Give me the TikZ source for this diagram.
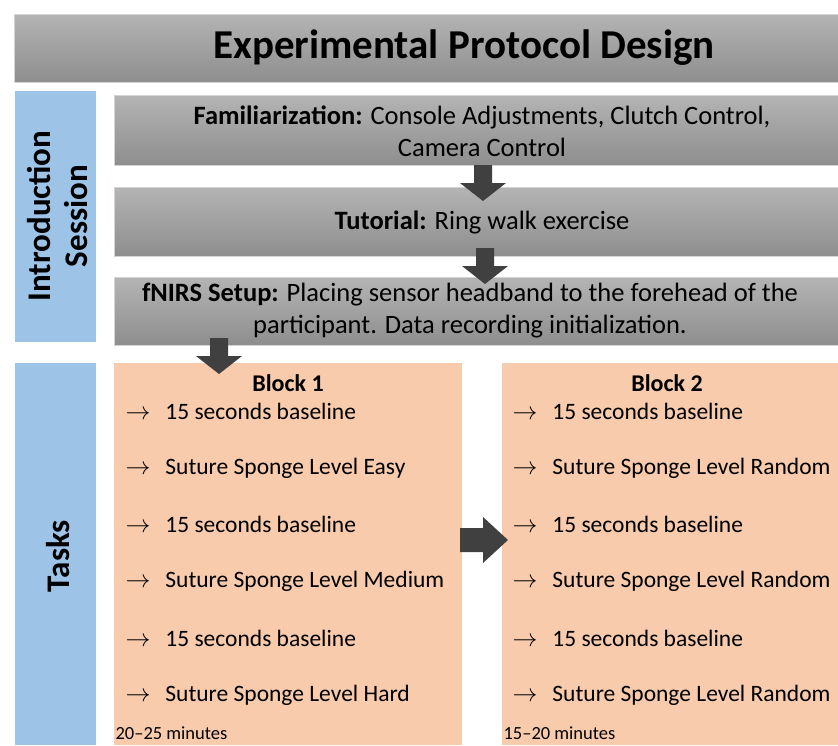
\documentclass[tikz,border=0pt]{standalone}
\usepackage{fontspec}
\setmainfont{Carlito}
\usetikzlibrary{positioning}

\definecolor{barTop}{HTML}{B4B4B4}
\definecolor{barBottom}{HTML}{8E8E8E}
\definecolor{barEdge}{HTML}{D4D4D4}
\definecolor{sessionBlue}{HTML}{9DC3E6}
\definecolor{taskOrange}{HTML}{F8CBAD}
\definecolor{arrowGray}{HTML}{404040}

\tikzset{
  downarrow/.pic={\fill[arrowGray] (-9,0) -- (9,0) -- (9,18) -- (23,18) -- (0,36) -- (-23,18) -- (-9,18) -- cycle;},
  rightarrow/.pic={\fill[arrowGray] (0,-12) -- (23,-12) -- (23,-23) -- (48,0) -- (23,23) -- (23,12) -- (0,12) -- cycle;}
}

\begin{document}
\begin{tikzpicture}[x=1pt,y=-1pt,
  bar/.style={top color=barTop, bottom color=barBottom, draw=barEdge, line width=0.8pt},
  side/.style={fill=sessionBlue},
  block/.style={fill=taskOrange},
  steptext/.style={align=center, font=\fontsize{26.5}{32}\selectfont},
  sidetext/.style={rotate=90, align=center, font=\fontsize{33}{37}\selectfont\bfseries},
  item/.style={anchor=west, font=\fontsize{23.5}{28}\selectfont},
  heading/.style={font=\fontsize{24}{28}\selectfont\bfseries},
  duration/.style={anchor=west, font=\fontsize{18.5}{21}\selectfont}]
\useasboundingbox (0,0) rectangle (838,745);

% title bar
\fill[bar] (14,14) rectangle (840,82);
\node[font=\fontsize{41}{48}\selectfont\bfseries] (title) at (464,48) {Experimental Protocol Design};

% introduction session
\fill[side] (15,91) rectangle (96,342);
\node[sidetext] (intro) at (58,216) {Introduction\\Session};
\fill[bar] (114,95) rectangle (840,165);
\fill[bar] (114,187) rectangle (840,256);
\fill[bar] (114,277) rectangle (840,345);
\node[steptext] (famil) at (482,131) {\textbf{Familiarization:} Console Adjustments, Clutch Control,\\Camera Control};
\node[steptext] (tutor) at (482,222) {\textbf{Tutorial:} Ring walk exercise};
\node[steptext] (setup) at (470,311) {\textbf{fNIRS Setup:} Placing sensor headband to the forehead of the\\participant. Data recording initialization.};
\pic at (483,165) {downarrow};
\pic at (485,248) {downarrow};

% tasks
\fill[side] (15,363) rectangle (96,745);
\node[sidetext] (tasks) at (58,556) {Tasks};
\fill[block] (114,363) rectangle (462,745);
\fill[block] (502,363) rectangle (840,745);
\pic at (219,338) {downarrow};
\pic at (460,540) {rightarrow};

\node[heading] (block1) at (288,383) {Block 1};
\node[heading] (block2) at (667,383) {Block 2};
\foreach \y/\t [count=\i] in {411/15 seconds baseline, 468/Suture Sponge Level Easy,
    524/15 seconds baseline, 581/Suture Sponge Level Medium,
    638/15 seconds baseline, 695/Suture Sponge Level Hard}
  \node[item] (b1-\i) at (122,\y) {$\rightarrow$\hspace{15pt}\t};
\foreach \y/\t [count=\i] in {411/15 seconds baseline, 468/Suture Sponge Level Random,
    524/15 seconds baseline, 581/Suture Sponge Level Random,
    638/15 seconds baseline, 695/Suture Sponge Level Random}
  \node[item] (b2-\i) at (509,\y) {$\rightarrow$\hspace{15pt}\t};
\node[duration] (time1) at (112,733) {20–25 minutes};
\node[duration] (time2) at (500,733) {15–20 minutes};
\end{tikzpicture}
\end{document}
